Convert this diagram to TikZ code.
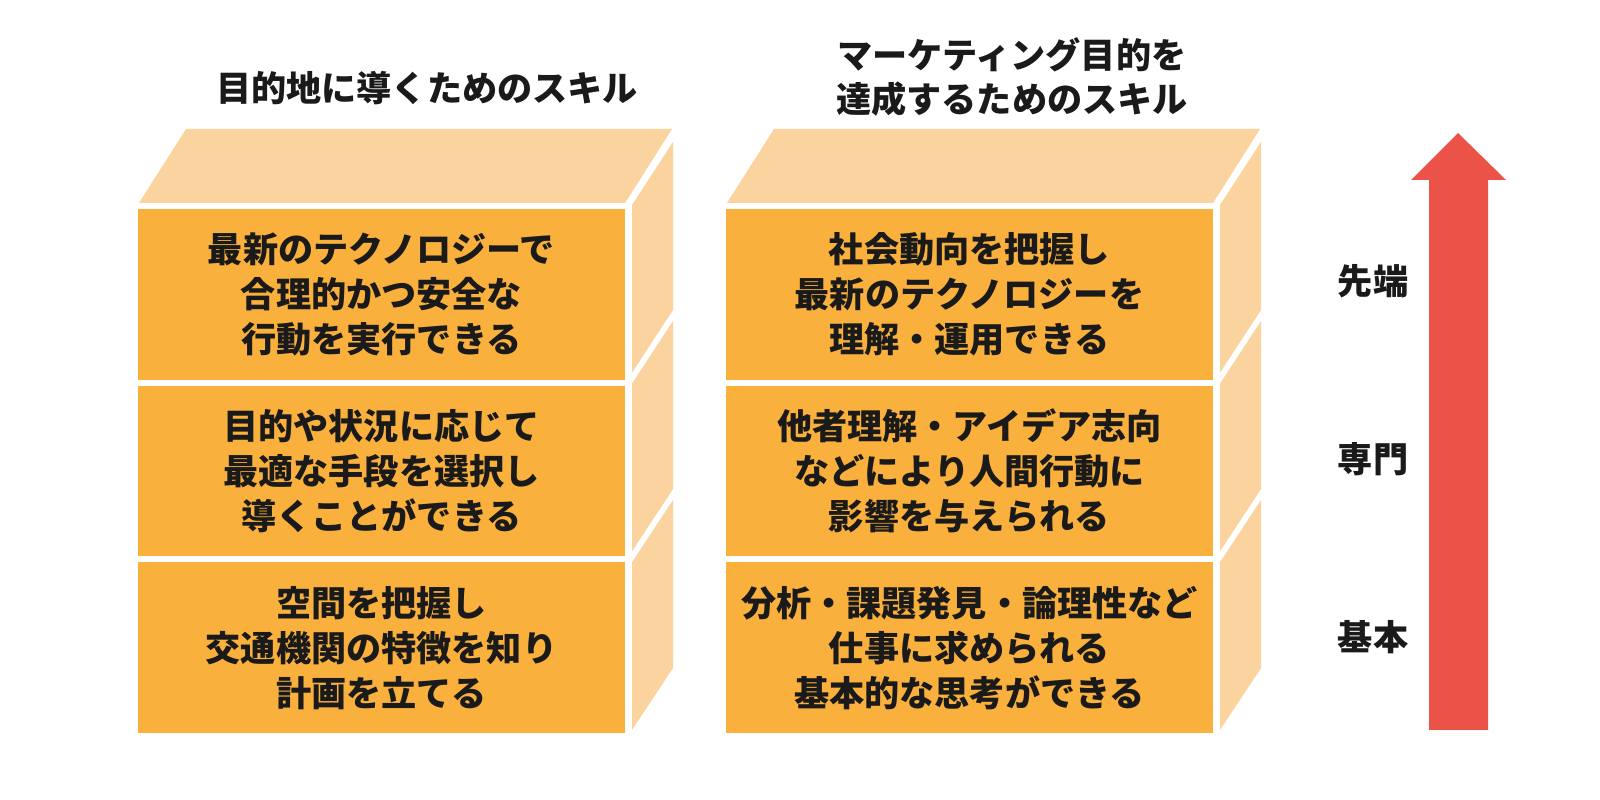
\documentclass[tikz,border=0pt]{standalone}
\usepackage{fontspec}
\newfontfamily\jp{Noto Sans CJK JP}
\definecolor{frontc}{HTML}{FAB03C}
\definecolor{lightc}{HTML}{FBD39E}
\definecolor{arrowc}{HTML}{EB5248}
\definecolor{txtc}{HTML}{1A1A1A}
\tikzset{
  front/.style={fill=frontc, draw=none, minimum width=48.7mm, minimum height=17.07mm, inner sep=0pt,
    align=center, text=txtc, font=\jp\bfseries\fontsize{10pt}{12.8pt}\selectfont},
  lightface/.style={fill=lightc, draw=none},
  title/.style={align=center, text=txtc, font=\jp\bfseries\fontsize{10pt}{12.6pt}\selectfont},
  level/.style={text=txtc, font=\jp\bfseries\fontsize{10pt}{12pt}\selectfont}
}
\begin{document}
\begin{tikzpicture}[x=0.1mm, y=-0.1mm]
\useasboundingbox (0,0) rectangle (1600,800);
\fill[white] (0,0) rectangle (1600,800);
% blocks
\foreach \dx in {0,588}{
  \begin{scope}[xshift=\dx*0.1mm]
    \fill[lightc] (139,203) -- (625,203) -- (672,129) -- (186,129) -- cycle;
    \fill[lightc] (632,205) -- (673,142) -- (673,310) -- (632,372.7) -- cycle;
    \fill[lightc] (632,383.7) -- (673,321) -- (673,489) -- (632,551.3) -- cycle;
    \fill[lightc] (632,562.3) -- (673,500) -- (673,668) -- (632,730) -- cycle;
  \end{scope}
}
% left front faces
\node[front] (L1) at (381.5,294.3) {最新のテクノロジーで\\合理的かつ安全な\\行動を実行できる};
\node[front] (L2) at (381.5,471) {目的や状況に応じて\\最適な手段を選択し\\導くことができる};
\node[front] (L3) at (381.5,647.7) {空間を把握し\\交通機関の特徴を知り\\計画を立てる};
% right front faces
\node[front] (R1) at (969.5,294.3) {社会動向を把握し\\最新のテクノロジーを\\理解・運用できる};
\node[front] (R2) at (969.5,471) {他者理解・アイデア志向\\などにより人間行動に\\影響を与えられる};
\node[front] (R3) at (969.5,647.7) {分析・課題発見・論理性など\\仕事に求められる\\基本的な思考ができる};
% titles
\node[title] (TL) at (427,88) {目的地に導くためのスキル};
\node[title] (TR) at (1012,77) {マーケティング目的を\\達成するためのスキル};
% arrow
\fill[arrowc] (1429,730) -- (1429,180) -- (1411,180) -- (1458,133) -- (1506,180) -- (1488,180) -- (1488,730) -- cycle;
% levels
\node[level] (A1) at (1373,281) {先端};
\node[level] (A2) at (1373,459) {専門};
\node[level] (A3) at (1373,637) {基本};
\end{tikzpicture}
\end{document}
